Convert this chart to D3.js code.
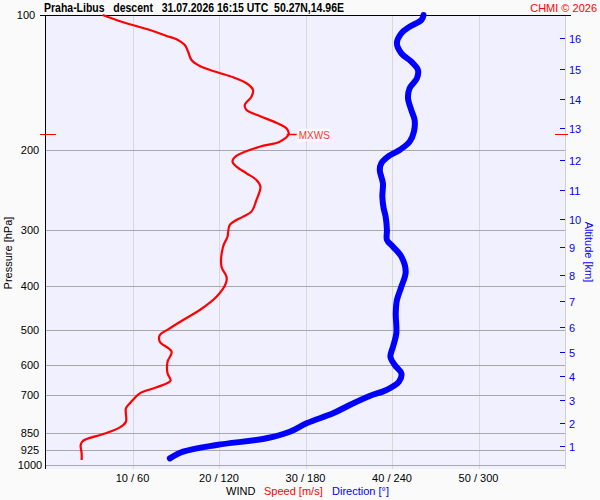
<!DOCTYPE html>
<html>
<head>
<meta charset="utf-8">
<script src="https://cdn.jsdelivr.net/npm/d3@7"></script>
<style>
  body { margin: 0; background: #fafafa; }
  svg { display: block; font-family: "Liberation Sans", Arial, sans-serif; }
</style>
</head>
<body>
<svg id="chart" width="600" height="500"></svg>
<script>
// Data (pressure levels in hPa)
const speedPressure = [100, 103.8, 108.0, 111.3, 113.2, 116.6, 120.7, 125.9, 129.8, 133.9, 137.5, 141.8,
    146.8, 151.9, 158.5, 162.6, 167.7, 173.6, 178.6, 183.9, 191.3, 196.2, 205.7, 211.8, 217.3, 224.8,
    232.6, 240.7, 257.6, 273.5, 280.6, 292.8, 311.0, 327.3, 362.5, 381.6, 394.7, 422.7, 452.4, 476.2,
    499.4, 514.3, 532.2, 560.1, 589.5, 625.6, 649.7, 672.0, 693.0, 729.4, 748.2, 801.4, 824.7, 853.4,
    883.1, 902.9, 941.9, 974.7];
const speedValues = [6.55, 8.93, 12.01, 13.94, 15.09, 16.05, 16.43, 16.82, 17.78, 19.71, 21.63, 23.18,
    23.94, 23.75, 22.98, 23.18, 24.71, 26.64, 27.79, 28.06, 27.02, 24.71, 22.0, 21.56, 22.02, 23.18,
    24.33, 24.79, 24.33, 23.75, 22.78, 21.25, 20.98, 20.47, 20.29, 20.87, 20.79, 19.71, 17.78, 15.85,
    14.12, 13.16, 13.16, 14.52, 14.05, 14.05, 14.40, 12.78, 10.85, 9.70, 9.24, 9.24, 8.55, 6.62,
    4.31, 4.01, 4.12, 4.12];

const dirPressure = [100, 102.6, 106.2, 109.8, 115.6, 121.7, 127.0, 132.5, 138.2, 145.5, 153.1, 162.6,
    171.2, 181.7, 191.3, 199.5, 206.5, 213.6, 221.0, 236.6, 253.3, 268.9, 280.6, 300.4, 316.2, 327.3,
    344.4, 371.9, 401.6, 430.0, 460.1, 509.8, 546.1, 574.6, 599.5, 625.6, 653.0, 681.3, 702.6, 735.6,
    767.5, 807.9, 843.4, 872.3, 902.9, 934.1, 966.5];
const dirValues = [261.9, 260.4, 252.2, 246.5, 243.4, 246.5, 253.4, 258.0, 257.3, 252.2, 251.1, 253.4,
    255.7, 255.2, 252.2, 245.3, 237.2, 232.6, 231.5, 233.7, 233.3, 234.2, 235.6, 236.5, 236.5, 240.7,
    246.5, 249.5, 246.5, 243.4, 242.6, 243.0, 240.7, 238.9, 241.9, 246.5, 244.8, 236.1, 224.5, 210.7,
    199.1, 180.7, 169.1, 152.9, 118.3, 95.1, 85.9];

const pressureTicks = [100, 200, 300, 400, 500, 600, 700, 850, 925, 1000];
const speedTicks = [10, 20, 30, 40, 50];
const altitudeKm = [1, 2, 3, 4, 5, 6, 7, 8, 9, 10, 11, 12, 13, 14, 15, 16];
const altitudePressure = [907, 805, 717, 634, 560, 493, 431, 378, 328, 284, 245, 210, 178, 153.5, 131.8, 112.7];

const titleText = "Praha-Libus   descent   31.07.2026 16:15 UTC  50.27N,14.96E";

// Layout
const plotLeft = 45, plotRight = 565, plotTop = 15, axisBottom = 465, plotBottom = 469;

const svg = d3.select("#chart");

const x = d3.scaleLinear().domain([0, 60]).range([46, 565]);
const xDir = d3.scaleLinear().domain([0, 360]).range([46, 565]);
const y = d3.scaleLog().domain([100, 1000]).range([plotTop, axisBottom]);

// Plot background
svg.append("rect")
    .attr("x", plotLeft).attr("y", plotTop)
    .attr("width", plotRight - plotLeft).attr("height", plotBottom - plotTop)
    .attr("fill", "#f0f0ff");

// Vertical grid
svg.append("g")
    .selectAll("line")
    .data(speedTicks)
    .join("line")
    .attr("x1", d => Math.round(x(d)) + 0.5).attr("x2", d => Math.round(x(d)) + 0.5)
    .attr("y1", plotTop).attr("y2", plotBottom)
    .attr("stroke", "#d8d8d8").attr("stroke-width", 1);

// Horizontal grid
svg.append("g")
    .selectAll("line")
    .data(pressureTicks.filter(d => d > 100))
    .join("line")
    .attr("x1", plotLeft).attr("x2", plotRight)
    .attr("y1", d => Math.round(y(d)) + 0.5).attr("y2", d => Math.round(y(d)) + 0.5)
    .attr("stroke", "#a8a8a8").attr("stroke-width", 1);

// Right border
svg.append("line")
    .attr("x1", plotRight + 0.5).attr("x2", plotRight + 0.5)
    .attr("y1", plotTop).attr("y2", plotBottom)
    .attr("stroke", "#d0d0d0");

// Frame: top and left
svg.append("line")
    .attr("x1", 40).attr("x2", 571)
    .attr("y1", plotTop + 0.5).attr("y2", plotTop + 0.5)
    .attr("stroke", "#000");
svg.append("line")
    .attr("x1", plotLeft + 0.5).attr("x2", plotLeft + 0.5)
    .attr("y1", plotTop).attr("y2", plotBottom)
    .attr("stroke", "#000");

// Pressure labels
svg.append("g")
    .selectAll("text")
    .data(pressureTicks)
    .join("text")
    .attr("x", d => d === 100 ? 26 : 30)
    .attr("y", d => y(d) + 4)
    .attr("text-anchor", "middle")
    .attr("font-size", 11)
    .attr("fill", "#000")
    .text(d => d);

// Speed / direction labels
svg.append("g")
    .selectAll("text")
    .data(speedTicks)
    .join("text")
    .attr("x", d => x(d))
    .attr("y", 482)
    .attr("text-anchor", "middle")
    .attr("font-size", 11)
    .text(d => d + " / " + Math.round(xDir.invert(x(d))));

// Altitude axis
const alt = svg.append("g");
altitudeKm.forEach((km, i) => {
    const yy = Math.round(y(altitudePressure[i])) + 0.5;
    alt.append("line")
        .attr("x1", 560).attr("x2", 565)
        .attr("y1", yy).attr("y2", yy)
        .attr("stroke", "#0000ff");
    alt.append("text")
        .attr("x", 569).attr("y", yy + 4)
        .attr("font-size", 11)
        .attr("fill", "#0000ff")
        .text(km);
});

// Wind direction line
const dirData = dirPressure.map((p, i) => ({p: p, v: dirValues[i]}));
svg.append("path")
    .datum(dirData)
    .attr("fill", "none")
    .attr("stroke", "#0000ff")
    .attr("stroke-width", 6)
    .attr("stroke-linecap", "round")
    .attr("stroke-linejoin", "round")
    .attr("d", d3.line().x(d => xDir(d.v)).y(d => y(d.p)).curve(d3.curveCatmullRom));

// Wind speed line
const speedData = speedPressure.map((p, i) => ({p: p, v: speedValues[i]}));
svg.append("path")
    .datum(speedData)
    .attr("fill", "none")
    .attr("stroke", "#ff0000")
    .attr("stroke-width", 2.2)
    .attr("stroke-linejoin", "round")
    .attr("d", d3.line().x(d => x(d.v)).y(d => y(d.p)).curve(d3.curveCatmullRom));

// Max wind marker
const maxPt = speedData[d3.maxIndex(speedData, d => d.v)];
const yMax = Math.round(y(maxPt.p)) + 0.5;
svg.append("line").attr("x1", 40).attr("x2", 56).attr("y1", yMax).attr("y2", yMax).attr("stroke", "#ff0000");
svg.append("line").attr("x1", 555).attr("x2", 568).attr("y1", yMax).attr("y2", yMax).attr("stroke", "#ff0000");
svg.append("line").attr("x1", x(maxPt.v) - 2).attr("x2", x(maxPt.v) + 8).attr("y1", yMax).attr("y2", yMax)
    .attr("stroke", "#ff0000").attr("stroke-width", 1.5);
svg.append("rect")
    .attr("x", x(maxPt.v) + 9).attr("y", yMax - 6)
    .attr("width", 32).attr("height", 13)
    .attr("fill", "#fafaff");
svg.append("text")
    .attr("x", x(maxPt.v) + 10).attr("y", yMax + 4)
    .attr("font-size", 10)
    .attr("fill", "#ff3333")
    .text("MXWS");

// Title
svg.append("text")
    .attr("x", 44).attr("y", 12)
    .attr("font-size", 12).attr("font-weight", "bold")
    .attr("textLength", 300).attr("lengthAdjust", "spacingAndGlyphs")
    .style("white-space", "pre")
    .text(titleText);
svg.append("text")
    .attr("x", 597).attr("y", 12)
    .attr("text-anchor", "end")
    .attr("font-size", 11)
    .attr("fill", "#ff0000")
    .text("CHMI \u00a9 2026");

// Axis titles
svg.append("text")
    .attr("transform", "translate(12,253) rotate(-90)")
    .attr("text-anchor", "middle")
    .attr("font-size", 11)
    .text("Pressure [hPa]");
svg.append("text")
    .attr("transform", "translate(585,252) rotate(90)")
    .attr("text-anchor", "middle")
    .attr("font-size", 11)
    .attr("fill", "#0000ff")
    .text("Altitude [km]");

const legend = svg.append("text").attr("y", 495).attr("font-size", 11);
legend.append("tspan").attr("x", 226).attr("fill", "#000").text("WIND");
legend.append("tspan").attr("x", 264).attr("fill", "#ff0000").text("Speed [m/s]");
legend.append("tspan").attr("x", 332).attr("fill", "#0000ff").text("Direction [°]");
</script>
</body>
</html>
